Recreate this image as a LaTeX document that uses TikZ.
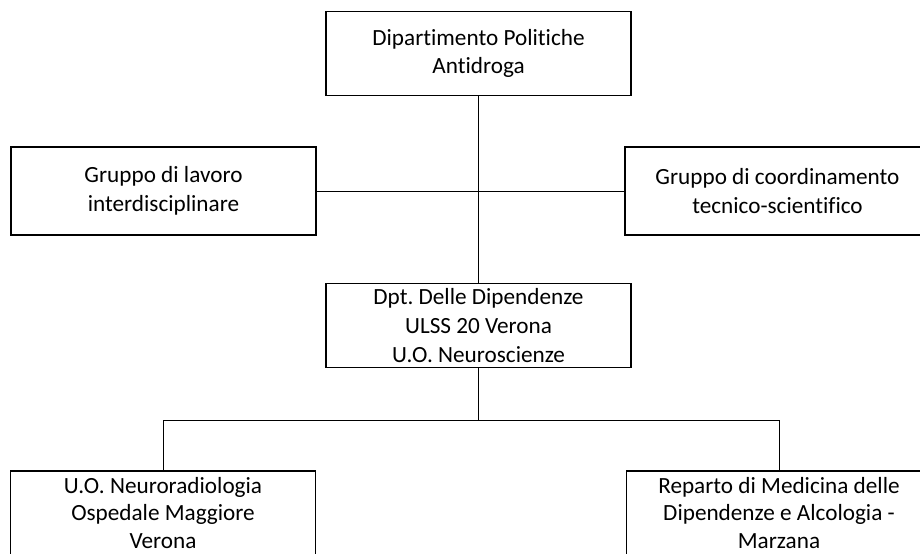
\documentclass[tikz,border=0pt]{standalone}
\usepackage{fontspec}
\setmainfont[Ligatures=CommonOff]{Carlito}
\frenchspacing
\begin{document}
\begin{tikzpicture}[x=0.75pt,y=-0.75pt,
	orgbox/.style={draw,line width=1pt,minimum width=228.75pt,minimum height=63pt,align=center,font=\fontsize{17.4}{21.5}\selectfont,inner sep=0pt,execute at begin node=\rule{0pt}{20pt}},
	lowbox/.style={orgbox,font=\fontsize{17.4}{20.5}\selectfont,execute at begin node=\rule{0pt}{16pt}},
	link/.style={line width=0.6pt}]
	\useasboundingbox (0,0) rectangle (920,553);
	\node[orgbox] (dpa) at (478.5,53.5) {Dipartimento Politiche\\Antidroga};
	\node[orgbox,minimum height=66pt] (lavoro) at (163.5,191) {Gruppo di lavoro\\interdisciplinare};
	\node[orgbox,minimum height=66pt] (coord) at (777.5,191) {Gruppo di coordinamento\\tecnico-scientifico};
	\node[orgbox] (dipend) at (478.5,325.5) {Dpt. Delle Dipendenze\\ULSS 20 Verona\\U.O. Neuroscienze};
	\node[lowbox] (neuro) at (163,513) {U.O. Neuroradiologia\\Ospedale Maggiore\\Verona};
	\node[lowbox] (marzana) at (779,513) {Reparto di Medicina delle\\Dipendenze e Alcologia -\\Marzana};
	\draw[link] (dpa) -- (dipend);
	\draw[link] (lavoro) -- (coord);
	\draw[link] (dipend.south) -- ++(0,52) coordinate (fork);
	\draw[link] (neuro.north) |- (fork) -| (marzana.north);
\end{tikzpicture}
\end{document}
